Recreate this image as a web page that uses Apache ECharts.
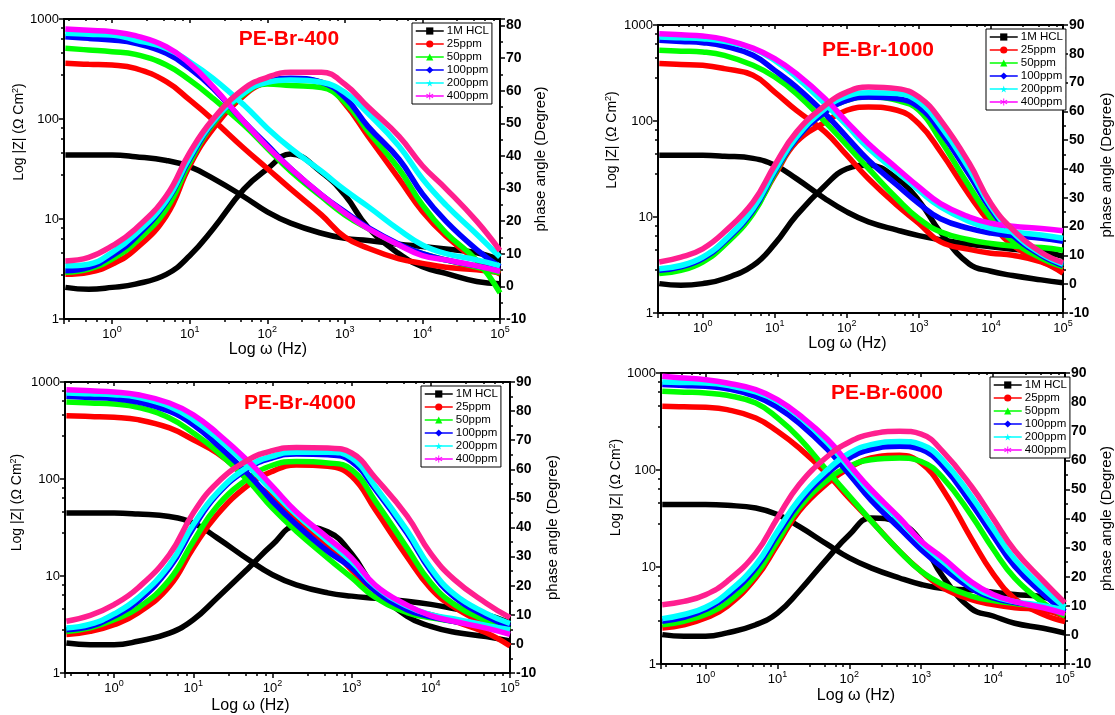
<!DOCTYPE html>
<html>
<head>
<meta charset="utf-8">
<script src="https://cdn.jsdelivr.net/npm/echarts@6/dist/echarts.min.js"></script>
<style>
  html, body { margin: 0; padding: 0; background: #fff; }
  #chart { width: 1115px; height: 715px; }
</style>
</head>
<body>
<div id="chart"></div>
<script>
// Bode plots (|Z| and phase angle) for the four PE-Br inhibitors in 1M HCl.
const FREQ = [0.25, 0.5, 1, 2, 5, 10, 20, 50, 100, 200, 500, 1000, 2000, 5000, 10000, 20000, 50000, 100000];
const SAMPLES = ['1M HCL', '25ppm', '50ppm', '100ppm', '200ppm', '400ppm'];
const PANEL_TITLES = ['PE-Br-400', 'PE-Br-1000', 'PE-Br-4000', 'PE-Br-6000'];

// |Z| (Ω cm²), one row per sample, one column per FREQ entry
const br400Z = [
  [43.7, 43.7, 43.7, 42, 38.5, 33.4, 25.5, 16.7, 11.8, 9.1, 7.2, 6.4, 6.1, 5.6, 5.3, 5.0, 4.6, 3.9],
  [360, 352, 346, 321, 236, 155, 98, 51, 32, 20, 11, 6.6, 5.1, 4.0, 3.6, 3.3, 3.1, 2.9],
  [509, 490, 471, 443, 347, 245, 161, 87, 51, 30, 16.7, 11, 8.0, 5.5, 4.5, 3.9, 3.3, 2.9],
  [666, 640, 617, 571, 454, 321, 203, 94, 55, 32, 17.4, 11.8, 8.2, 5.6, 4.5, 3.9, 3.4, 3.1],
  [719, 705, 692, 617, 509, 374, 255, 138, 81, 51, 30, 19.5, 13.3, 7.8, 5.5, 4.5, 3.9, 3.4],
  [794, 770, 747, 681, 528, 360, 211, 94, 53, 32, 17.4, 11.5, 8.0, 5.5, 4.3, 3.9, 3.4, 3.0]
];
// phase angle (degree)
const br400Phase = [
  [-0.3, -0.9, -0.3, 0.7, 3.7, 9.4, 17.6, 29.8, 36, 40.6, 35, 28, 18, 10, 6, 4, 1.5, 0.8],
  [3.7, 4.3, 6.8, 11.4, 21.7, 37, 48.3, 58.5, 62.6, 63.6, 62.6, 56, 46, 33, 23, 15.5, 8, 3.8],
  [4.3, 5.3, 8.4, 13.5, 23.7, 38, 49.8, 59, 62.1, 61.6, 61, 56.5, 47.5, 36, 25, 16.5, 8, -2],
  [4.8, 5.8, 9.4, 15, 25.8, 39, 50.3, 59.5, 62.8, 63.8, 62.6, 58, 49, 39, 28.4, 20, 11.3, 6],
  [6.3, 6.8, 10.4, 16, 26.3, 39.6, 50.5, 59.3, 62.6, 63.3, 62.6, 59.5, 53, 43, 33, 25, 16, 9],
  [7.8, 8.9, 12.4, 17.6, 27.8, 41, 51.3, 60.6, 64.1, 65.7, 65.7, 62, 55, 46, 37, 30, 20, 11]
];

const br1000Z = [
  [43.9, 43.9, 43.9, 43, 40.8, 34.7, 25.1, 15.5, 11.3, 8.9, 7.3, 6.4, 5.8, 5.2, 4.9, 4.6, 4.4, 3.9],
  [396, 388, 380, 351, 299, 200, 129, 77, 44, 25, 13.2, 8.6, 5.5, 4.6, 4.2, 4.0, 3.4, 2.6],
  [545, 534, 523, 483, 380, 287, 193, 98, 56, 32, 15.5, 9.6, 7.0, 5.8, 5.3, 5.0, 4.8, 4.5],
  [692, 673, 655, 604, 483, 337, 226, 119, 68, 39, 21.4, 13.8, 9.6, 7.6, 6.8, 6.4, 6.0, 5.6],
  [750, 735, 720, 676, 566, 428, 287, 151, 90, 52, 29.4, 19, 12.7, 9.0, 7.6, 7.0, 6.5, 6.0],
  [812, 790, 768, 709, 575, 446, 311, 171, 98, 58, 32, 20.6, 13.8, 10, 8.6, 8.0, 7.6, 7.2]
];
const br1000Phase = [
  [0.2, -0.4, 0.2, 1.9, 6.5, 14, 23.9, 34.3, 40.1, 41.3, 36.6, 29, 18, 7, 4.5, 3, 1.5, 0.5],
  [4.2, 5.4, 8.9, 14.7, 25.1, 37.8, 49.4, 56.3, 60.4, 61.5, 60.4, 55.7, 46, 31, 21, 13.5, 8, 5],
  [3.7, 4.8, 7.7, 13.5, 24.5, 38.4, 50.5, 59.8, 63.8, 65, 63.8, 60.4, 50, 34, 23, 15, 9, 6],
  [4.8, 6, 8.9, 14.7, 25.6, 39, 50.5, 59.8, 63.8, 65, 64.4, 61.5, 53, 38, 26, 17, 10, 6.5],
  [5.4, 6.5, 9.4, 15.2, 26.2, 39.5, 51.1, 61, 65.3, 66.5, 66.2, 63.3, 55, 40, 27, 18, 10.5, 7],
  [7.7, 9.4, 12.3, 18.1, 28.5, 41.3, 52.8, 62.1, 66.7, 68.5, 67.9, 65, 57, 42, 28, 19, 11, 7.5]
];

const br4000Z = [
  [44.6, 44.6, 44.6, 43.5, 41, 35.2, 24.7, 14.7, 10.3, 8.1, 6.7, 6.2, 5.9, 5.5, 5.1, 4.6, 4.0, 3.3],
  [450, 441, 432, 409, 336, 254, 185, 102, 64, 38, 21, 11.5, 7.0, 4.5, 4.0, 3.4, 2.6, 1.9],
  [622, 607, 593, 548, 426, 298, 193, 95, 50, 29, 15.3, 9.6, 6.0, 4.2, 3.7, 3.4, 3.0, 2.7],
  [711, 692, 673, 622, 499, 363, 226, 111, 59, 34, 18, 12.1, 7.0, 4.5, 3.8, 3.4, 3.0, 2.8],
  [771, 755, 740, 695, 561, 409, 265, 135, 75, 43, 22.8, 14.1, 7.8, 4.9, 4.0, 3.6, 3.1, 2.8],
  [834, 811, 789, 740, 608, 460, 298, 152, 84, 46, 24.7, 15.3, 8.0, 5.0, 3.9, 3.4, 2.9, 2.5]
];
const br4000Phase = [
  [0.3, -0.3, -0.3, 0.9, 3.7, 8.3, 15.8, 26.1, 34.1, 40.4, 38.5, 31, 19, 9.5, 6, 4, 2.5, 1],
  [3.2, 4.3, 6.6, 10.6, 19.8, 33, 44.4, 54.7, 59.3, 61.5, 61, 57.6, 46, 30, 19, 12.5, 7, 4.5],
  [4.3, 5.5, 8.3, 12.3, 22, 35.2, 47.3, 57, 61.4, 62.7, 62.2, 59.9, 49, 33, 21, 13.5, 8, 5],
  [4.9, 6, 9.5, 14.6, 26.1, 39.8, 51.3, 60.4, 63.9, 65.3, 65, 62.7, 53, 38, 25, 16, 9.5, 6],
  [5.5, 6.8, 10.3, 15.8, 27.2, 41, 51.9, 61, 64.5, 65.9, 65.9, 63.9, 54, 39, 26, 17, 10.5, 7],
  [7.8, 9.8, 13.5, 19.2, 30.7, 45, 55.3, 63.3, 66.4, 67.5, 67.3, 65.6, 57, 44, 31, 22, 14, 9]
];

const br6000Z = [
  [44, 44, 44, 43.2, 40.5, 34.7, 26.2, 17, 12.4, 9.8, 7.7, 6.6, 6.0, 5.8, 5.5, 5.2, 4.9, 4.0],
  [453, 448, 443, 419, 344, 251, 169, 90, 51, 30, 14.5, 9.0, 6.1, 4.6, 4.1, 3.8, 3.6, 3.1],
  [647, 635, 622, 589, 490, 344, 214, 97, 54, 30, 14.5, 9.0, 6.6, 5.0, 4.5, 4.2, 3.9, 3.6],
  [759, 744, 729, 689, 575, 443, 305, 162, 90, 49, 25, 15.1, 9.8, 6.0, 4.8, 4.3, 3.9, 3.5],
  [807, 798, 789, 746, 637, 511, 357, 190, 105, 58, 30, 17.7, 11.4, 6.5, 5.0, 4.4, 4.0, 3.6],
  [924, 888, 853, 789, 673, 531, 371, 206, 113, 63, 32, 18.4, 12.4, 7.0, 5.2, 4.4, 3.8, 3.3]
];
const br6000Phase = [
  [0.1, -0.5, -0.5, 0.7, 3.5, 7.5, 15, 26.4, 34.4, 40.2, 38.5, 32.2, 20, 9, 6.5, 4, 2.3, 0.6],
  [2.4, 3.5, 5.8, 9.8, 19.6, 31, 42.5, 52.2, 57.4, 60.8, 61.7, 59, 50, 33, 21, 12.5, 7, 4.6],
  [3.5, 4.7, 7, 11, 20.7, 32.2, 43.6, 53.3, 57.9, 60.2, 60.8, 59.6, 54, 41, 29.5, 19.5, 11, 6.5],
  [4.7, 6, 8.7, 13.3, 23, 34.4, 45.3, 55.6, 60.8, 63.7, 64.8, 63.7, 58, 45, 34, 23.5, 14, 8],
  [5.6, 7, 9.5, 14.4, 24.1, 35.6, 46.5, 56.8, 62.5, 65.4, 66.5, 65.4, 60, 47.5, 36.5, 26, 16, 9.5],
  [10.4, 11.5, 13.8, 18.4, 28.1, 40.2, 51.6, 61.4, 66.3, 69, 70, 69, 63, 51, 40, 29, 18.5, 11]
];

const Z_DATA = [br400Z, br1000Z, br4000Z, br6000Z];
const PHASE_DATA = [br400Phase, br1000Phase, br4000Phase, br6000Phase];

// ---- styling ----
const FONT = '"Liberation Sans", Arial, sans-serif';
const COLORS = ['#000000', '#ff0000', '#00ff00', '#0000ff', '#00ffff', '#ff00ff'];
const PHASE_COLORS = ['#000000', '#ff0000', '#00ff00', '#0000ff', '#00ffff', '#ff1f8f'];
const STAR = 'path://M50,0 L61,35 L98,35 L68,57 L79,91 L50,70 L21,91 L32,57 L2,35 L39,35 Z';
const ASTERISK = 'path://M44,0 L56,0 L56,100 L44,100 Z M3.7,30.2 L9.7,19.8 L96.3,69.8 L90.3,80.2 Z M3.7,69.8 L9.7,80.2 L96.3,30.2 L90.3,19.8 Z';
const SYMBOLS = ['rect', 'circle', 'triangle', 'diamond', STAR, ASTERISK];

const PANELS = [
  { grid: { left: 64, top: 19, width: 436, height: 300 }, phaseMax: 82, legend: { left: 412, top: 23 },
    title: [289, 39], gaps: { x: 22, l: 37, r: 33 }, shift: { x: 28, l: 74, r: 20 } },
  { grid: { left: 658, top: 25, width: 408, height: 288 }, phaseMax: 90, legend: { left: 986, top: 29 },
    title: [878, 50], gaps: { x: 20, l: 38, r: 36 }, shift: { x: 26, l: 58, r: 8 } },
  { grid: { left: 65, top: 382, width: 445, height: 291 }, phaseMax: 90, legend: { left: 421, top: 386 },
    title: [300, 403], gaps: { x: 25, l: 40, r: 35 }, shift: { x: 74, l: 50, r: 0 } },
  { grid: { left: 661, top: 373, width: 409, height: 291 }, phaseMax: 90, legend: { left: 990, top: 377 },
    title: [887, 393], gaps: { x: 24, l: 37, r: 34 }, shift: { x: 14, l: 62, r: 0 } }
];

const AXIS_LINE = { show: true, onZero: false, lineStyle: { color: '#000', width: 2 } };
const TICK_STYLE = { color: '#000', width: 1.5 };

const grids = [], xAxes = [], yAxes = [], legends = [], series = [], graphics = [];

PANELS.forEach((p, i) => {
  grids.push(Object.assign({ containLabel: false }, p.grid));

  // bottom frequency axis
  xAxes.push({
    type: 'log', logBase: 10, gridIndex: i, position: 'bottom',
    min: 0.24, max: 100000,
    axisLine: AXIS_LINE,
    axisTick: { show: true, inside: false, length: 5, lineStyle: TICK_STYLE },
    minorTick: { show: true, splitNumber: 5, length: 3, lineStyle: TICK_STYLE },
    splitLine: { show: false },
    axisLabel: {
      showMinLabel: false, margin: 6, color: '#000',
      formatter: v => '{b|10}{s|' + Math.round(Math.log10(v)) + '}',
      rich: {
        b: { fontSize: 13, fontFamily: FONT, color: '#000', verticalAlign: 'bottom' },
        s: { fontSize: 9, fontFamily: FONT, color: '#000', verticalAlign: 'bottom', padding: [0, 0, 7, 0] }
      }
    },
    name: 'Log ω (Hz)', nameLocation: 'middle', nameGap: p.gaps.x,
    nameTextStyle: { fontSize: 16, fontFamily: FONT, color: '#000', padding: [0, p.shift.x, 0, 0] }
  });
  // top frame axis
  xAxes.push({
    type: 'log', logBase: 10, gridIndex: i, position: 'top',
    min: 0.24, max: 100000,
    axisLine: AXIS_LINE,
    axisTick: { show: true, inside: true, length: 4, lineStyle: TICK_STYLE },
    minorTick: { show: true, splitNumber: 5, length: 2, lineStyle: TICK_STYLE },
    splitLine: { show: false },
    axisLabel: { show: false }
  });

  // |Z| axis
  yAxes.push({
    type: 'log', logBase: 10, gridIndex: i, position: 'left',
    min: 1, max: 1000,
    axisLine: AXIS_LINE,
    axisTick: { show: true, inside: false, length: 5, lineStyle: TICK_STYLE },
    minorTick: { show: true, splitNumber: 5, length: 3, lineStyle: TICK_STYLE },
    splitLine: { show: false },
    axisLabel: {
      fontSize: 13, fontFamily: FONT, color: '#000', margin: 5,
      formatter: v => String(Math.round(v))
    },
    name: 'Log |Z| (Ω Cm{s|2})', nameLocation: 'middle', nameRotate: 90, nameGap: p.gaps.l,
    nameTextStyle: {
      fontSize: 14, fontFamily: FONT, color: '#000', padding: [0, 0, 0, p.shift.l],
      rich: { s: { fontSize: 9, fontFamily: FONT, color: '#000', verticalAlign: 'bottom', padding: [0, 0, 7, 0] } }
    }
  });
  // phase axis
  yAxes.push({
    type: 'value', gridIndex: i, position: 'right',
    min: -10, max: p.phaseMax, interval: 10,
    axisLine: AXIS_LINE,
    axisTick: { show: true, inside: false, length: 5, lineStyle: TICK_STYLE },
    minorTick: { show: true, splitNumber: 2, length: 3, lineStyle: TICK_STYLE },
    splitLine: { show: false },
    axisLabel: {
      fontSize: 14, fontWeight: 'bold', fontFamily: FONT, color: '#000', margin: 6,
      formatter: v => (v % 10 === 0 ? String(v) : '')
    },
    name: 'phase angle (Degree)', nameLocation: 'middle', nameRotate: 90, nameGap: p.gaps.r,
    nameTextStyle: { fontSize: 15, fontFamily: FONT, color: '#000', padding: [0, 0, 0, p.shift.r] }
  });

  legends.push({
    orient: 'vertical', left: p.legend.left, top: p.legend.top,
    data: SAMPLES, selectedMode: false,
    itemWidth: 28, itemHeight: 9, itemGap: 1,
    padding: [2, 3, 2, 3],
    borderColor: '#000', borderWidth: 1, backgroundColor: '#fff',
    lineStyle: { width: 1.5 },
    textStyle: { fontSize: 11.5, fontFamily: FONT, color: '#000', padding: [0, 0, 0, -2] }
  });

  graphics.push({
    type: 'text', x: p.title[0], y: p.title[1], z: 100,
    style: {
      text: PANEL_TITLES[i], fill: '#ff0000', font: 'bold 21px ' + FONT,
      textAlign: 'center', textVerticalAlign: 'middle'
    }
  });

  SAMPLES.forEach((name, k) => {
    series.push({
      name, type: 'line', xAxisIndex: 2 * i, yAxisIndex: 2 * i,
      data: FREQ.map((f, j) => [f, Z_DATA[i][k][j]]),
      smooth: 0.45,
      symbol: SYMBOLS[k], symbolSize: 7, showSymbol: false,
      itemStyle: { color: COLORS[k] },
      lineStyle: { color: COLORS[k], width: 5.5 },
      emphasis: { disabled: true }, silent: true
    });
    series.push({
      name, type: 'line', xAxisIndex: 2 * i, yAxisIndex: 2 * i + 1,
      data: FREQ.map((f, j) => [f, PHASE_DATA[i][k][j]]),
      smooth: 0.45,
      symbol: 'rect', symbolSize: 6, showSymbol: false,
      itemStyle: { color: PHASE_COLORS[k] },
      lineStyle: { color: PHASE_COLORS[k], width: 5.5 },
      emphasis: { disabled: true }, silent: true
    });
  });
});

const chart = echarts.init(document.getElementById('chart'), null, { renderer: 'canvas' });
chart.setOption({
  animation: false,
  backgroundColor: '#ffffff',
  textStyle: { fontFamily: FONT },
  grid: grids,
  xAxis: xAxes,
  yAxis: yAxes,
  legend: legends,
  graphic: graphics,
  series
});
</script>
</body>
</html>
